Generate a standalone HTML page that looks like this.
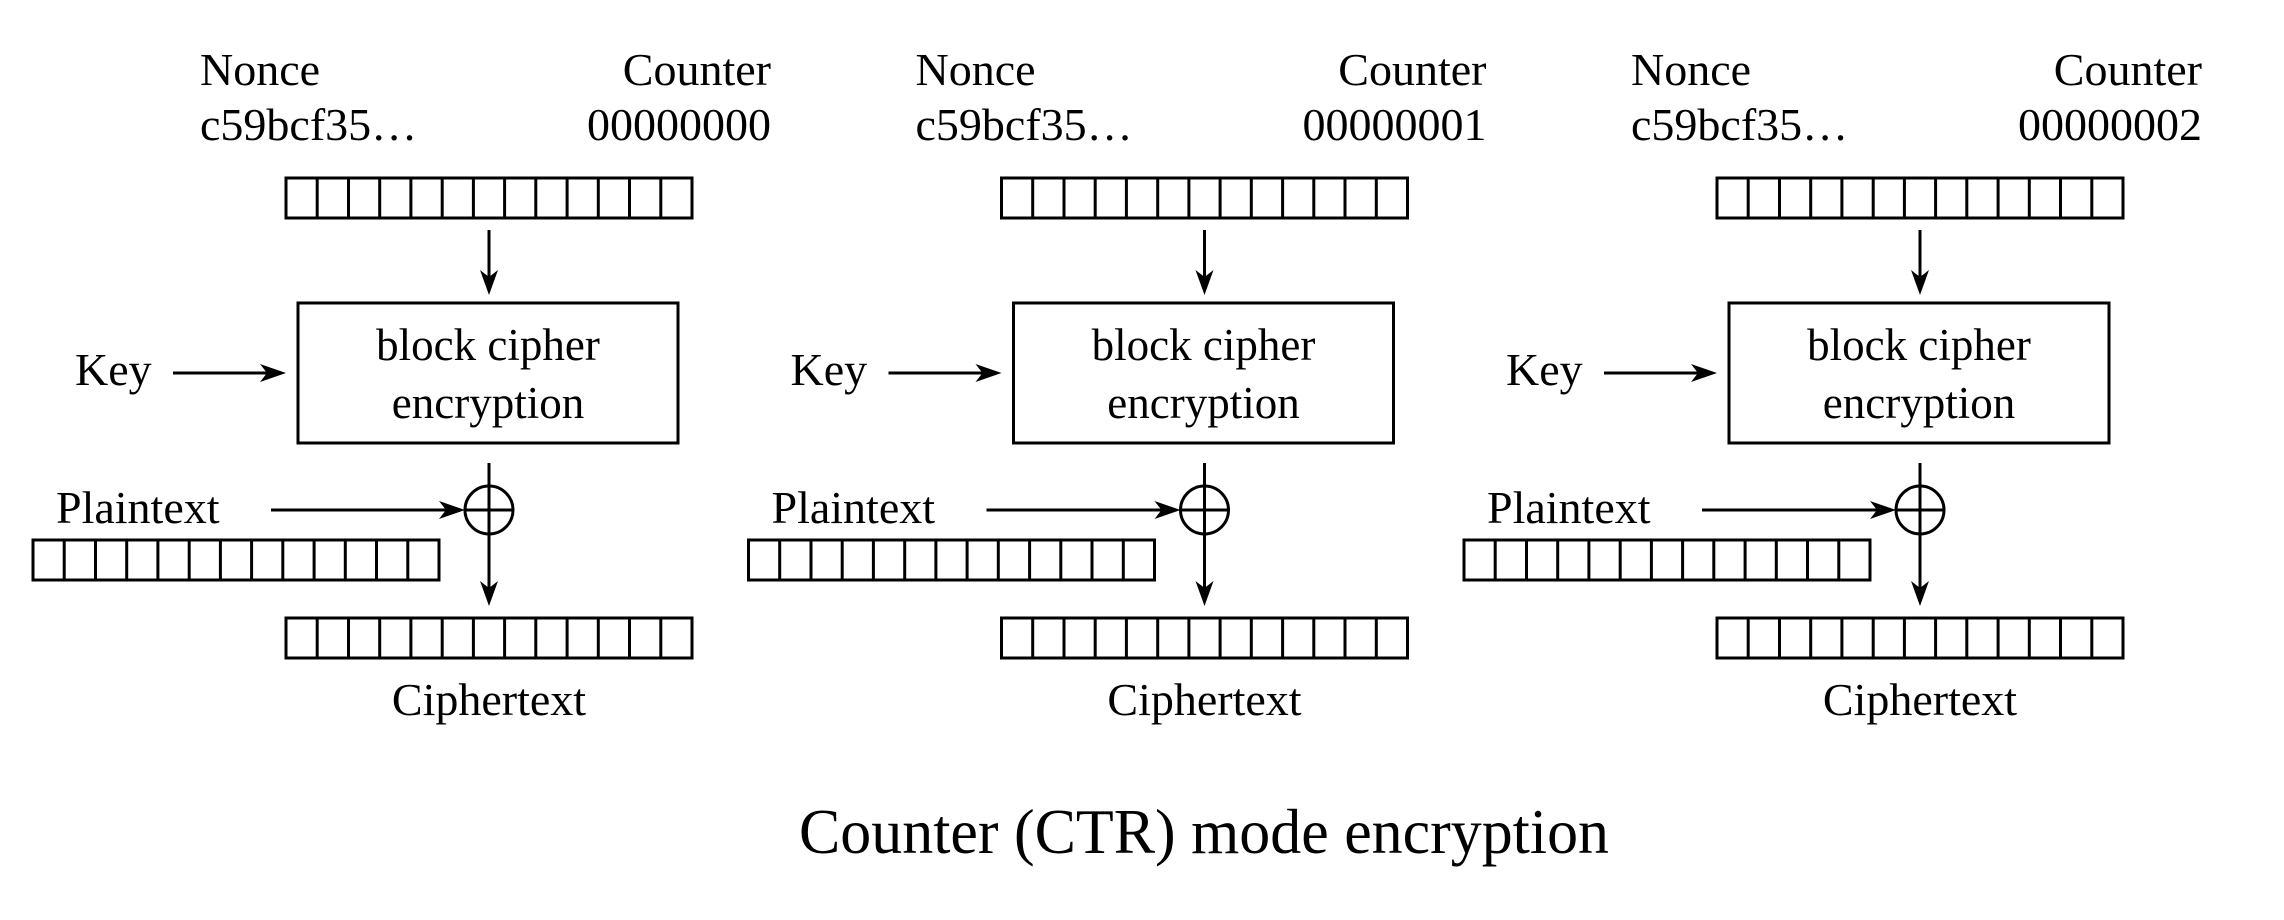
<!DOCTYPE html>
<html><head><meta charset="utf-8"><style>
html,body{margin:0;padding:0;background:#fff;}
svg{display:block;}
text{font-family:"Liberation Serif",serif;fill:#000;}
</style></head><body>
<svg width="2284" height="920" viewBox="0 0 2284 920" xmlns="http://www.w3.org/2000/svg">
<defs>
<g id="reg">
<rect x="0" y="0" width="406" height="40" fill="none" stroke="#000" stroke-width="3"/>
<path d="M31.2 0V40M62.5 0V40M93.7 0V40M124.9 0V40M156.2 0V40M187.4 0V40M218.6 0V40M249.8 0V40M281.1 0V40M312.3 0V40M343.5 0V40M374.8 0V40" stroke="#000" stroke-width="3"/>
</g>
<g id="panel">
<text x="200" y="85" font-size="46">Nonce</text>
<text x="771" y="85" font-size="46" text-anchor="end">Counter</text>
<text x="200" y="140" font-size="46">c59bcf35…</text>
<use href="#reg" x="286" y="178"/>
<line x1="489" y1="230" x2="489" y2="280" stroke="#000" stroke-width="3"/>
<path d="M480 270 L489 295 L498 270 L489 277 Z" fill="#000"/>
<rect x="298" y="303" width="380" height="140" fill="none" stroke="#000" stroke-width="3"/>
<text x="488" y="360" font-size="45" text-anchor="middle">block cipher</text>
<text x="488" y="418" font-size="45" text-anchor="middle">encryption</text>
<text x="75" y="385" font-size="46">Key</text>
<line x1="173" y1="373" x2="275" y2="373" stroke="#000" stroke-width="3"/>
<path d="M260 364 L286 373 L260 382 L267 373 Z" fill="#000"/>
<line x1="489" y1="463" x2="489" y2="592" stroke="#000" stroke-width="3"/>
<path d="M480 581 L489 606 L498 581 L489 588 Z" fill="#000"/>
<circle cx="489" cy="510" r="24" fill="none" stroke="#000" stroke-width="3"/>
<line x1="465" y1="510" x2="513" y2="510" stroke="#000" stroke-width="3"/>
<text x="56" y="523" font-size="46">Plaintext</text>
<line x1="271" y1="510" x2="450" y2="510" stroke="#000" stroke-width="3"/>
<path d="M439 501 L465 510 L439 519 L446 510 Z" fill="#000"/>
<use href="#reg" x="33" y="540"/>
<use href="#reg" x="286" y="618"/>
<text x="489" y="715" font-size="46" text-anchor="middle">Ciphertext</text>
</g>
</defs>
<g><use href="#panel"/><text x="771" y="140" font-size="46" text-anchor="end">00000000</text></g>
<g transform="translate(715.5,0)"><use href="#panel"/><text x="771" y="140" font-size="46" text-anchor="end">00000001</text></g>
<g transform="translate(1431,0)"><use href="#panel"/><text x="771" y="140" font-size="46" text-anchor="end">00000002</text></g>
<text x="1204" y="853" font-size="63" text-anchor="middle" textLength="810" lengthAdjust="spacingAndGlyphs">Counter (CTR) mode encryption</text>
</svg>
</body></html>
